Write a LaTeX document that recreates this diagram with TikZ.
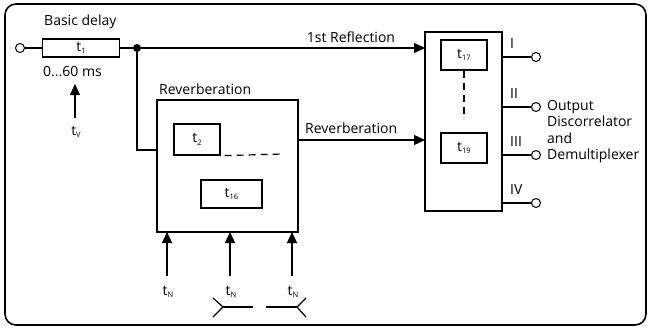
\documentclass[tikz,border=0pt]{standalone}
\usepackage{fontspec}
\setmainfont{Open Sans}
\usetikzlibrary{arrows.meta}
\newcommand{\tsub}[1]{t\raisebox{-2.5pt}{\fontsize{7.5}{8}\selectfont #1}}
\begin{document}
\begin{tikzpicture}[x=1pt,y=-1pt,
  lbl/.style={font=\fontsize{14}{16}\selectfont, inner sep=0pt},
  box/.style={draw, line width=1.2pt},
  wire/.style={line width=1.2pt},
  arr/.style={line width=1.2pt, -{Triangle[length=11pt,width=10pt]}},
  term/.style={circle, draw, fill=white, line width=1pt, minimum size=9pt, inner sep=0pt},
  tb/.style={box, inner sep=0pt, font=\fontsize{14}{16}\selectfont}]
\useasboundingbox (0,0) rectangle (650,329);
\draw[line width=1.6pt, rounded corners=11pt] (5,4) rectangle (646,325);
% input
\node[term] (in) at (20,48) {};
\node[tb, minimum width=77pt, minimum height=18pt] (t1) at (81,48) {\tsub{1}};
\node[lbl, anchor=west] (bd) at (44,22) {Basic delay};
\draw[wire] (in) -- (t1);
\node[circle, fill, minimum size=8pt, inner sep=0pt] (j) at (137,48) {};
\draw[wire] (t1) -- (j);
\node[lbl, anchor=west] (ms) at (43,72) {0...60 ms};
\coordinate (tvb) at (75,118);
\coordinate (tvt) at (75,84);
\draw[arr] (tvb) -- (tvt);
\node[lbl] (tv) at (76,132) {\tsub{V}};
% output box
\node[box, minimum width=77pt, minimum height=179pt, inner sep=0pt] (ob) at (463.5,121.5) {};
\node[tb, minimum width=46pt, minimum height=30pt] (t17) at (464,55) {\tsub{17}};
\node[tb, minimum width=46pt, minimum height=30pt] (t19) at (464,148) {\tsub{19}};
\draw[wire, dash pattern=on 7pt off 5pt] (t17.south) -- ++(0,48);
% first reflection
\coordinate (r1) at (425,48);
\draw[arr] (j) -- (r1);
\node[lbl] (fr) at (351,37) {1st Reflection};
% reverberation box
\node[box, minimum width=141pt, minimum height=132pt, inner sep=0pt] (rb) at (227.5,166) {};
\node[lbl, anchor=west] (rl) at (159,89) {Reverberation};
\node[tb, minimum width=46pt, minimum height=31pt] (t2) at (197,139.5) {\tsub{2}};
\node[tb, minimum width=61pt, minimum height=28pt] (t16) at (231.5,194) {\tsub{16}};
\coordinate (dsh) at (283,154);
\draw[wire, dash pattern=on 7pt off 5pt] (t2.south east) ++(4,0) -- (dsh);
\coordinate (rin) at (157,150);
\draw[wire] (j) |- (rin);
\coordinate (r2a) at (298,140);
\coordinate (r2b) at (425,140);
\draw[arr] (r2a) -- (r2b);
\node[lbl, anchor=west] (rl2) at (305,128) {Reverberation};
% bottom arrows
\foreach \x/\n in {167/a,230/b,292/c}{
  \coordinate (b\n) at (\x,276);
  \coordinate (e\n) at (\x,232);
  \draw[arr] (b\n) -- (e\n);
  \node[lbl] (tn\n) at (\x+1,292) {\tsub{N}};
}
% fork symbols
\coordinate (fa) at (223,307);
\draw[wire] (213,298) -- (fa) -- (213,317);
\draw[wire] (fa) -- (253,307);
\coordinate (fb) at (297,307);
\draw[wire] (306,298) -- (fb) -- (306,317);
\draw[wire] (fb) -- (266,307);
% outputs
\foreach \y/\t/\n in {57/I/1,107/II/2,155/III/3,203/IV/4}{
  \node[term] (o\n) at (536,\y) {};
  \draw[wire] (ob.east |- o\n) -- (o\n);
  \node[lbl, anchor=west] (ol\n) at (510,\y-13) {\t};
}
\node[lbl, anchor=north west, align=left, font=\fontsize{14}{16.5}\selectfont] (odl) at (547,100) {Output\\Discorrelator\\and\\Demultiplexer};
\end{tikzpicture}
\end{document}
